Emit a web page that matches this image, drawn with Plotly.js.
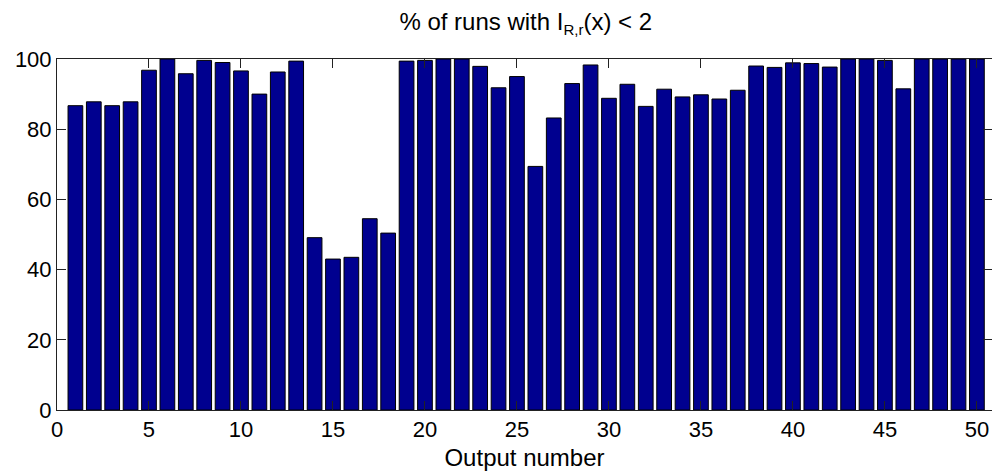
<!DOCTYPE html>
<html>
<head>
<meta charset="utf-8">
<script src="https://cdn.plot.ly/plotly-3.0.1.min.js"></script>
<style>
html, body { margin: 0; padding: 0; overflow: hidden; background: #fff; }
#chart { width: 992px; height: 476px; }
</style>
</head>
<body>
<div id="chart"></div>
<script>
const outputNumbers = [1,2,3,4,5,6,7,8,9,10,11,12,13,14,15,16,17,18,19,20,21,22,23,24,25,26,27,28,29,30,31,32,33,34,35,36,37,38,39,40,41,42,43,44,45,46,47,48,49,50];
const percentValues = [86.7,87.8,86.7,87.8,96.8,100,95.8,99.6,99.0,96.6,90.0,96.3,99.4,49.1,43.0,43.5,54.5,50.4,99.4,99.6,100,100,97.9,91.8,95.0,69.4,83.2,93.0,98.3,88.8,92.8,86.5,91.4,89.2,89.8,88.6,91.1,98.0,97.6,98.9,98.7,97.7,100,100,99.6,91.5,100,100,100,100];
const xTickVals = [0,5,10,15,20,25,30,35,40,45,50];
const yTickVals = [0,20,40,60,80,100];

const font = 'Liberation Sans, Arial, Helvetica, sans-serif';

const trace = {
  type: 'bar',
  x: outputNumbers,
  y: percentValues,
  width: 0.8,
  marker: { color: 'rgb(0,0,143)', line: { color: '#000', width: 1 } },
  hoverinfo: 'x+y'
};

const layout = {
  width: 992,
  height: 476,
  margin: { l: 57, r: 0, t: 59, b: 66, pad: 0 },
  paper_bgcolor: '#fff',
  plot_bgcolor: '#fff',
  showlegend: false,
  font: { family: font, size: 22, color: '#000' },
  title: {
    text: '% of runs with I<sub><span style="font-size:15px">R,r</span></sub>(x) &lt; 2',
    font: { family: font, size: 24, color: '#000' },
    xref: 'container', x: 0.53, xanchor: 'center',
    yref: 'container', y: 0.972, yanchor: 'top'
  },
  xaxis: {
    range: [0, 50.82],
    tickmode: 'array', tickvals: xTickVals,
    ticks: 'inside', ticklen: 9, tickcolor: '#222', tickwidth: 1,
    showline: true, linecolor: '#222', linewidth: 1, mirror: 'ticks',
    showgrid: false, zeroline: false,
    tickfont: { family: font, size: 22, color: '#000' },
    title: { text: 'Output number', font: { family: font, size: 24, color: '#000' }, standoff: 7 }
  },
  yaxis: {
    range: [0, 100],
    tickmode: 'array', tickvals: yTickVals,
    ticks: 'inside', ticklen: 9, tickcolor: '#222', tickwidth: 1,
    showline: true, linecolor: '#222', linewidth: 1, mirror: 'ticks',
    showgrid: false, zeroline: false,
    tickfont: { family: font, size: 22, color: '#000' }
  }
};

Plotly.newPlot('chart', [trace], layout, { displayModeBar: false, staticPlot: true });
</script>
</body>
</html>
